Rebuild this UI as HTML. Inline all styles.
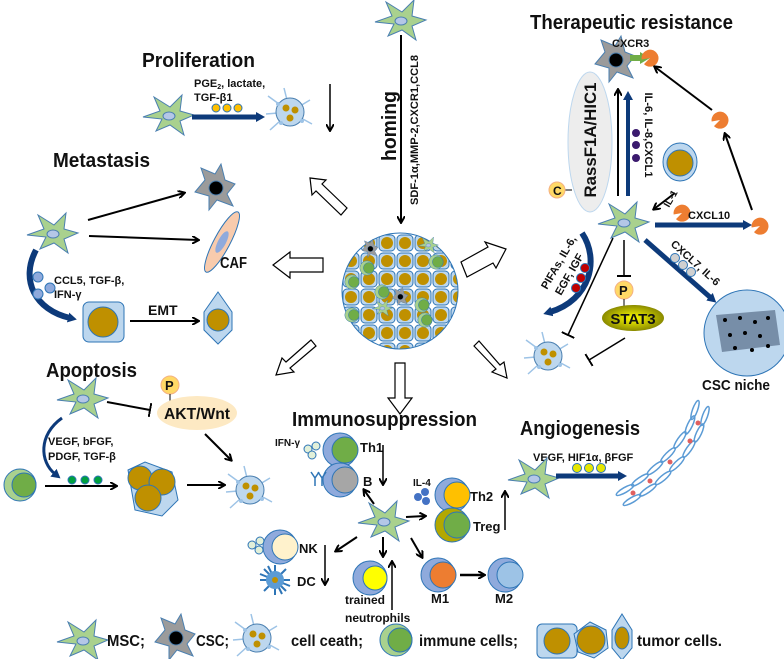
<!DOCTYPE html>
<html><head><meta charset="utf-8"><style>
html,body{margin:0;padding:0;background:#fff;}
svg{display:block;font-family:"Liberation Sans",sans-serif;}
.t{font-weight:bold;fill:#111;}
</style></head><body>
<svg width="784" height="659" viewBox="0 0 784 659" xmlns="http://www.w3.org/2000/svg">
<defs>
<marker id="ab" markerWidth="8" markerHeight="8" refX="6" refY="4" orient="auto" markerUnits="userSpaceOnUse"><path d="M0,0 L7,4 L0,8" fill="none" stroke="#000" stroke-width="2"/></marker>
<marker id="abl" markerWidth="10" markerHeight="10" refX="2" refY="5" orient="auto" markerUnits="userSpaceOnUse"><path d="M0,0 L9,5 L0,10 Z" fill="#0d3a7a"/></marker>
<marker id="tb" markerWidth="2" markerHeight="14" refX="1" refY="7" orient="auto" markerUnits="userSpaceOnUse"><rect x="0" y="0" width="2" height="14" fill="#000"/></marker>
<g id="msc"><path d="M-25,2 L-8,-4 L-14,-18 L2,-8 L14,-20 L12,-4 L26,0 L12,6 L16,20 L2,10 L-12,16 L-6,4 Z" fill="#a9d18e" stroke="#4a7fb0" stroke-width="1"/><ellipse cx="1" cy="1" rx="6" ry="4" fill="#b4c7e7" stroke="#4a7fb0"/></g>
<g id="csc"><path d="M-20,6 L-10,-6 L-14,-18 L0,-12 L6,-22 L10,-6 L20,-2 L12,8 L18,20 L2,14 L-6,24 L-6,10 Z" fill="#9b9b9b" stroke="#4a7fb0"/><circle cx="1" cy="2" r="7" fill="#000" stroke="#4a7fb0"/></g>
<g id="dead"><g stroke="#9dc3e6" stroke-width="1.5" fill="none"><path d="M0,0 L-22,-16 M0,0 L20,-12 M0,0 L22,12 M0,0 L-20,18 M0,0 L-6,-24 M0,0 L-24,2"/></g><circle r="14" fill="#bdd7ee" stroke="#4a7fb0"/><circle cx="-4" cy="-4" r="3.5" fill="#bf9000"/><circle cx="5" cy="-2" r="3.5" fill="#bf9000"/><circle cx="0" cy="6" r="3.5" fill="#bf9000"/><circle cx="-12" cy="-8" r="2" fill="#9dc3e6"/><circle cx="12" cy="9" r="2" fill="#9dc3e6"/><circle cx="-9" cy="11" r="2" fill="#9dc3e6"/></g>
<g id="imm"><circle r="16" fill="#a9d18e" stroke="#2e75b6"/><circle cx="4" r="12" fill="#70ad47" stroke="#2e75b6"/></g>
<g id="pac"><path d="M0,0 L7,-5 A8.5,8.5 0 1 0 8.5,0 Z" fill="#ed7d31"/></g>
<pattern id="tp" width="18" height="18" patternUnits="userSpaceOnUse"><rect x="1" y="1" width="16" height="16" rx="4" fill="#bdd7ee" stroke="#2e75b6"/><circle cx="9" cy="9" r="6" fill="#bf9000"/></pattern>
<radialGradient id="yg"><stop offset="0" stop-color="#ffff00"/><stop offset="1" stop-color="#8a8a00"/></radialGradient>
</defs>

<!-- homing -->
<use href="#msc" x="400" y="20"/>
<line x1="401" y1="35" x2="401" y2="222" stroke="#000" stroke-width="2" marker-end="url(#ab)"/>
<text class="t" font-size="20" transform="translate(396,126) rotate(-90)" text-anchor="middle" textLength="70" lengthAdjust="spacingAndGlyphs">homing</text>
<text class="t" font-size="11" font-weight="normal" transform="translate(418,130) rotate(-90)" text-anchor="middle" textLength="150" lengthAdjust="spacingAndGlyphs">SDF-1α,MMP-2,CXCR1,CCL8</text>

<!-- tumor mass -->
<circle cx="400" cy="291" r="58" fill="url(#tp)" stroke="#2e75b6"/>
<use href="#imm" transform="translate(367,268) scale(0.45)"/><use href="#imm" transform="translate(436,262) scale(0.45)"/>
<use href="#imm" transform="translate(352,282) scale(0.45)"/><use href="#imm" transform="translate(382,292) scale(0.45)"/>
<use href="#imm" transform="translate(422,305) scale(0.45)"/><use href="#imm" transform="translate(352,315) scale(0.45)"/>
<use href="#imm" transform="translate(425,320) scale(0.45)"/>
<use href="#csc" transform="translate(370,248) scale(0.4)"/><use href="#csc" transform="translate(400,296) scale(0.4)"/>
<use href="#msc" transform="translate(428,245) scale(0.4)"/><use href="#msc" transform="translate(382,308) scale(0.4)"/>

<!-- hollow arrows -->
<g fill="#fff" stroke="#000" stroke-width="1.2">
<path d="M323,258 L290,258 L290,252 L273,265 L290,278 L290,272 L323,272 Z"/>
<path d="M347,208 L322,184 L326,180 L310,178 L312,195 L316,191 L341,215 Z"/>
<path d="M461,262 L488,247 L485,242 L506,249 L496,268 L493,263 L467,277 Z"/>
<path d="M311,340 L286,362 L282,358 L276,375 L294,372 L290,368 L316,346 Z"/>
<path d="M474,346 L496,369 L492,372 L507,378 L504,362 L500,365 L479,341 Z"/>
<path d="M395,363 L405,363 L405,398 L412,398 L400,414 L388,398 L395,398 Z"/>
</g>

<!-- Proliferation -->
<text class="t" x="142" y="67" font-size="20" textLength="113" lengthAdjust="spacingAndGlyphs">Proliferation</text>
<text class="t" x="194" y="87" font-size="11">PGE<tspan font-size="7" dy="2">2</tspan><tspan dy="-2">, lactate,</tspan></text>
<text class="t" x="194" y="101" font-size="11">TGF-β1</text>
<circle cx="216" cy="108" r="4" fill="#ffc000" stroke="#2e75b6"/><circle cx="227" cy="108" r="4" fill="#ffc000" stroke="#2e75b6"/><circle cx="238" cy="108" r="4" fill="#ffc000" stroke="#2e75b6"/>
<use href="#msc" x="168" y="115"/>
<line x1="192" y1="117" x2="258" y2="117" stroke="#0d3a7a" stroke-width="5" marker-end="url(#abl)"/>
<use href="#dead" x="290" y="112"/>
<line x1="330" y1="84" x2="330" y2="130" stroke="#000" stroke-width="1.5" marker-end="url(#ab)"/>

<!-- Metastasis -->
<text class="t" x="53" y="167" font-size="20" textLength="97" lengthAdjust="spacingAndGlyphs">Metastasis</text>
<use href="#csc" x="215" y="186"/>
<use href="#msc" x="52" y="233"/>
<line x1="88" y1="220" x2="184" y2="193" stroke="#000" stroke-width="2" marker-end="url(#ab)"/>
<line x1="89" y1="236" x2="198" y2="240" stroke="#000" stroke-width="2" marker-end="url(#ab)"/>
<ellipse cx="222" cy="242" rx="34" ry="8" transform="rotate(-62 222 242)" fill="#f8cbad" stroke="#2e75b6"/>
<ellipse cx="222" cy="242" rx="12" ry="4" transform="rotate(-62 222 242)" fill="#8faadc"/>
<text class="t" x="220" y="268" font-size="16" textLength="27" lengthAdjust="spacingAndGlyphs">CAF</text>
<path d="M36,250 C20,280 35,310 70,318" fill="none" stroke="#0d3a7a" stroke-width="6" marker-end="url(#abl)"/>
<circle cx="38" cy="277" r="5" fill="#8faadc" stroke="#2e75b6"/><circle cx="50" cy="288" r="5" fill="#8faadc" stroke="#2e75b6"/><circle cx="38" cy="294" r="5" fill="#8faadc" stroke="#2e75b6"/>
<text class="t" x="54" y="284" font-size="11">CCL5, TGF-β,</text>
<text class="t" x="54" y="298" font-size="11">IFN-γ</text>
<rect x="83" y="302" width="41" height="40" rx="6" fill="#bdd7ee" stroke="#2e75b6"/>
<circle cx="103" cy="322" r="15" fill="#bf9000" stroke="#2e75b6"/>
<line x1="130" y1="321" x2="198" y2="321" stroke="#000" stroke-width="2" marker-end="url(#ab)"/>
<text class="t" x="148" y="315" font-size="14">EMT</text>
<path d="M218,292 L232,312 L232,330 L218,344 L204,330 L204,312 Z" fill="#bdd7ee" stroke="#2e75b6"/>
<circle cx="218" cy="320" r="11" fill="#bf9000" stroke="#2e75b6"/>

<!-- Therapeutic resistance -->
<text class="t" x="530" y="29" font-size="20" textLength="203" lengthAdjust="spacingAndGlyphs">Therapeutic resistance</text>
<use href="#csc" x="615" y="58"/>
<text class="t" x="612" y="47" font-size="11">CXCR3</text>
<line x1="630" y1="58" x2="642" y2="58" stroke="#70ad47" stroke-width="6"/><path d="M640,52 L650,58 L640,64Z" fill="#70ad47"/>
<use href="#pac" transform="translate(650,58) rotate(170)"/>
<use href="#pac" transform="translate(720,120) rotate(170)"/>
<use href="#pac" transform="translate(760,226) rotate(170)"/>
<use href="#pac" transform="translate(682,213) rotate(170)"/>
<line x1="712" y1="110" x2="655" y2="67" stroke="#000" stroke-width="2" marker-end="url(#ab)"/>
<line x1="752" y1="210" x2="725" y2="134" stroke="#000" stroke-width="2" marker-end="url(#ab)"/>
<ellipse cx="590" cy="142" rx="22" ry="70" fill="#ededed" stroke="#bdd7ee"/>
<text class="t" font-size="17" font-weight="normal" transform="translate(596,140) rotate(-90)" text-anchor="middle" fill="#222" textLength="115" lengthAdjust="spacingAndGlyphs">RassF1A/HIC1</text>
<line x1="562" y1="190" x2="572" y2="190" stroke="#000"/>
<circle cx="557" cy="190" r="8" fill="#ffd966" stroke="#f4b183"/><text class="t" x="553" y="195" font-size="12">C</text>
<line x1="618" y1="196" x2="618" y2="90" stroke="#000" stroke-width="2" marker-end="url(#ab)"/>
<line x1="628" y1="196" x2="628" y2="98" stroke="#0d3a7a" stroke-width="4" marker-end="url(#abl)"/>
<circle cx="636" cy="133" r="4" fill="#3b1a6e"/><circle cx="636" cy="145" r="4" fill="#3b1a6e"/><circle cx="636" cy="158" r="4" fill="#3b1a6e"/>
<text class="t" font-size="11" transform="translate(645,135) rotate(90)" text-anchor="middle" textLength="85" lengthAdjust="spacingAndGlyphs">IL-6, IL-8,CXCL1</text>
<ellipse cx="680" cy="162" rx="17" ry="19" fill="#bdd7ee" stroke="#2e75b6"/><circle cx="680" cy="163" r="13" fill="#bf9000" stroke="#2e75b6"/>
<line x1="675" y1="193" x2="654" y2="209" stroke="#000" stroke-width="2" marker-end="url(#ab)"/>
<text class="t" font-size="10" transform="translate(669,208) rotate(-60)">IL-1</text>
<use href="#msc" x="623" y="222"/>
<line x1="655" y1="225" x2="745" y2="225" stroke="#0d3a7a" stroke-width="5" marker-end="url(#abl)"/>
<text class="t" x="688" y="219" font-size="11">CXCL10</text>
<line x1="645" y1="240" x2="711" y2="298" stroke="#0d3a7a" stroke-width="5" marker-end="url(#abl)"/>
<circle cx="675" cy="258" r="4.5" fill="#d0d0d0" stroke="#2e75b6"/><circle cx="683" cy="265" r="4.5" fill="#d0d0d0" stroke="#2e75b6"/><circle cx="691" cy="272" r="4.5" fill="#d0d0d0" stroke="#2e75b6"/>
<text class="t" font-size="11" transform="translate(670,245) rotate(42)">CXCL7, IL-6</text>
<circle cx="747" cy="333" r="43" fill="#bdd7ee" stroke="#2e75b6"/>
<g fill="#5a6f8a"><path d="M716,315 L775,310 L780,345 L722,352 Z" opacity="0.7"/></g>
<g fill="#000"><circle cx="725" cy="320" r="2"/><circle cx="740" cy="318" r="2"/><circle cx="755" cy="322" r="2"/><circle cx="768" cy="318" r="2"/><circle cx="730" cy="335" r="2"/><circle cx="745" cy="333" r="2"/><circle cx="760" cy="336" r="2"/><circle cx="735" cy="348" r="2"/><circle cx="752" cy="350" r="2"/><circle cx="768" cy="346" r="2"/></g>
<text class="t" x="702" y="390" font-size="15" textLength="68" lengthAdjust="spacingAndGlyphs">CSC niche</text>
<path d="M582,233 C600,260 590,300 550,312" fill="none" stroke="#0d3a7a" stroke-width="6" marker-end="url(#abl)"/>
<circle cx="585" cy="268" r="4.5" fill="#c00000" stroke="#2e75b6"/><circle cx="581" cy="278" r="4.5" fill="#c00000" stroke="#2e75b6"/><circle cx="576" cy="288" r="4.5" fill="#c00000" stroke="#2e75b6"/>
<text class="t" font-size="11" transform="translate(547,290) rotate(-60)">PIFAs, IL-6,</text>
<text class="t" font-size="11" transform="translate(561,296) rotate(-60)">EGF, IGF</text>
<line x1="613" y1="238" x2="568" y2="335" stroke="#000" stroke-width="1.5" marker-end="url(#tb)"/>
<line x1="624" y1="240" x2="624" y2="276" stroke="#000" stroke-width="1.5" marker-end="url(#tb)"/>
<circle cx="624" cy="290" r="9" fill="#ffd966" stroke="#f4b183"/><text class="t" x="619" y="295" font-size="13">P</text>
<line x1="624" y1="299" x2="624" y2="306" stroke="#000"/>
<ellipse cx="633" cy="318" rx="31" ry="13" fill="url(#yg)"/>
<text class="t" x="633" y="324" font-size="15" text-anchor="middle">STAT3</text>
<line x1="625" y1="338" x2="589" y2="360" stroke="#000" stroke-width="1.5" marker-end="url(#tb)"/>
<use href="#dead" x="548" y="356"/>

<!-- Apoptosis -->
<text class="t" x="46" y="377" font-size="20" textLength="91" lengthAdjust="spacingAndGlyphs">Apoptosis</text>
<use href="#msc" x="82" y="398"/>
<line x1="107" y1="402" x2="150" y2="410" stroke="#000" stroke-width="2" marker-end="url(#tb)"/>
<circle cx="170" cy="385" r="9" fill="#ffd966" stroke="#f4b183"/><text class="t" x="165" y="390" font-size="13">P</text>
<line x1="170" y1="394" x2="170" y2="401" stroke="#000"/>
<ellipse cx="197" cy="413" rx="40" ry="17" fill="#fde9c3"/>
<text class="t" x="197" y="419" font-size="16" text-anchor="middle" font-weight="normal" textLength="66" lengthAdjust="spacingAndGlyphs">AKT/Wnt</text>
<line x1="205" y1="434" x2="231" y2="460" stroke="#000" stroke-width="2" marker-end="url(#ab)"/>
<path d="M62,418 C38,435 40,462 55,474" fill="none" stroke="#0d3a7a" stroke-width="3" marker-end="url(#abl)"/>
<text class="t" x="48" y="445" font-size="11">VEGF, bFGF,</text>
<text class="t" x="48" y="460" font-size="11">PDGF, TGF-β</text>
<use href="#imm" x="20" y="485"/>
<line x1="45" y1="486" x2="116" y2="486" stroke="#000" stroke-width="2" marker-end="url(#ab)"/>
<circle cx="72" cy="480" r="4" fill="#00a040" stroke="#2e75b6"/><circle cx="85" cy="480" r="4" fill="#00a040" stroke="#2e75b6"/><circle cx="98" cy="480" r="4" fill="#00a040" stroke="#2e75b6"/>
<g stroke="#2e75b6" fill="#bdd7ee"><path d="M128,470 L145,462 L172,472 L178,500 L162,516 L135,510 Z"/></g>
<circle cx="140" cy="478" r="12" fill="#bf9000" stroke="#2e75b6"/><circle cx="162" cy="482" r="13" fill="#bf9000" stroke="#2e75b6"/><circle cx="148" cy="498" r="13" fill="#bf9000" stroke="#2e75b6"/>
<line x1="187" y1="485" x2="224" y2="485" stroke="#000" stroke-width="2" marker-end="url(#ab)"/>
<use href="#dead" x="250" y="490"/>

<!-- Immunosuppression -->
<text class="t" x="292" y="426" font-size="20" textLength="185" lengthAdjust="spacingAndGlyphs">Immunosuppression</text>
<text class="t" x="275" y="446" font-size="10">IFN-γ</text>
<circle cx="308" cy="449" r="4" fill="#e2f0d9" stroke="#2e75b6"/><circle cx="316" cy="446" r="4" fill="#e2f0d9" stroke="#2e75b6"/><circle cx="312" cy="455" r="4" fill="#e2f0d9" stroke="#2e75b6"/>
<circle cx="340" cy="450" r="17" fill="#8faadc" stroke="#2e75b6"/><circle cx="345" cy="450" r="13" fill="#70ad47" stroke="#2e75b6"/>
<text class="t" x="360" y="452" font-size="13">Th1</text>
<circle cx="340" cy="480" r="17" fill="#8faadc" stroke="#2e75b6"/><circle cx="345" cy="480" r="13" fill="#a6a6a6" stroke="#2e75b6"/>
<text class="t" x="363" y="486" font-size="13">B</text>
<path d="M311,472 L315,478 L315,486 M319,472 L315,478 M318,472 L322,478 L322,486 M326,472 L322,478" stroke="#2e75b6" stroke-width="1.5" fill="none"/>
<line x1="383" y1="445" x2="383" y2="484" stroke="#000" stroke-width="1.5" marker-end="url(#ab)"/>
<use href="#msc" x="383" y="521"/>
<line x1="374" y1="504" x2="364" y2="490" stroke="#000" stroke-width="2" marker-end="url(#ab)"/>
<line x1="406" y1="517" x2="425" y2="516" stroke="#000" stroke-width="2" marker-end="url(#ab)"/>
<line x1="357" y1="537" x2="336" y2="551" stroke="#000" stroke-width="2" marker-end="url(#ab)"/>
<line x1="383" y1="537" x2="383" y2="556" stroke="#000" stroke-width="2" marker-end="url(#ab)"/>
<line x1="411" y1="538" x2="422" y2="557" stroke="#000" stroke-width="2" marker-end="url(#ab)"/>
<text class="t" x="413" y="486" font-size="10">IL-4</text>
<circle cx="418" cy="497" r="4" fill="#4472c4"/><circle cx="425" cy="492" r="4" fill="#4472c4"/><circle cx="426" cy="501" r="4" fill="#4472c4"/>
<circle cx="452" cy="495" r="17" fill="#8faadc" stroke="#2e75b6"/><circle cx="457" cy="495" r="13" fill="#ffc000" stroke="#2e75b6"/>
<text class="t" x="470" y="501" font-size="13">Th2</text>
<circle cx="452" cy="525" r="17" fill="#b3a800" stroke="#2e75b6"/><circle cx="457" cy="525" r="13" fill="#70ad47" stroke="#2e75b6"/>
<text class="t" x="473" y="531" font-size="13">Treg</text>
<line x1="505" y1="530" x2="505" y2="492" stroke="#000" stroke-width="1.5" marker-end="url(#ab)"/>
<circle cx="252" cy="545" r="4" fill="#e2f0d9" stroke="#2e75b6"/><circle cx="260" cy="541" r="4" fill="#e2f0d9" stroke="#2e75b6"/><circle cx="259" cy="550" r="4" fill="#e2f0d9" stroke="#2e75b6"/>
<circle cx="280" cy="547" r="17" fill="#8faadc" stroke="#2e75b6"/><circle cx="285" cy="547" r="13" fill="#fff2cc" stroke="#2e75b6"/>
<text class="t" x="299" y="553" font-size="13">NK</text>
<line x1="325" y1="545" x2="325" y2="584" stroke="#000" stroke-width="1.5" marker-end="url(#ab)"/>
<g stroke="#2e75b6" stroke-width="2"><path d="M275,565 L275,595 M260,580 L290,580 M264,569 L286,591 M286,569 L264,591 M268,566 L282,594 M260,574 L290,586"/></g>
<circle cx="275" cy="580" r="9" fill="#5b9bd5"/><circle cx="275" cy="580" r="3" fill="#bf9000"/>
<text class="t" x="297" y="586" font-size="13">DC</text>
<circle cx="370" cy="578" r="17" fill="#8faadc" stroke="#2e75b6"/><circle cx="375" cy="578" r="12" fill="#ffff00" stroke="#2e75b6"/>
<line x1="392" y1="610" x2="392" y2="562" stroke="#000" stroke-width="1.5" marker-end="url(#ab)"/>
<text class="t" x="345" y="604" font-size="12">trained</text>
<text class="t" x="345" y="622" font-size="12">neutrophils</text>
<circle cx="438" cy="575" r="17" fill="#8faadc" stroke="#2e75b6"/><circle cx="443" cy="575" r="13" fill="#ed7d31" stroke="#2e75b6"/>
<text class="t" x="431" y="603" font-size="13">M1</text>
<line x1="460" y1="575" x2="484" y2="575" stroke="#000" stroke-width="2.5" marker-end="url(#ab)"/>
<circle cx="505" cy="575" r="17" fill="#8faadc" stroke="#2e75b6"/><circle cx="510" cy="575" r="13" fill="#9dc3e6" stroke="#2e75b6"/>
<text class="t" x="495" y="603" font-size="13">M2</text>

<!-- Angiogenesis -->
<text class="t" x="520" y="435" font-size="20" textLength="120" lengthAdjust="spacingAndGlyphs">Angiogenesis</text>
<text class="t" x="533" y="461" font-size="11">VEGF, HIF1α, βFGF</text>
<use href="#msc" x="533" y="478"/>
<line x1="556" y1="476" x2="620" y2="476" stroke="#0d3a7a" stroke-width="5" marker-end="url(#abl)"/>
<circle cx="577" cy="468" r="4.5" fill="#e6e600" stroke="#2e75b6"/><circle cx="589" cy="468" r="4.5" fill="#e6e600" stroke="#2e75b6"/><circle cx="601" cy="468" r="4.5" fill="#e6e600" stroke="#2e75b6"/>
<g fill="none" stroke="#5b9bd5" stroke-width="1.5">
<ellipse cx="625" cy="490" rx="10" ry="2.5" transform="rotate(-30 625 490)"/><ellipse cx="640" cy="480" rx="10" ry="2.5" transform="rotate(-35 640 480)"/><ellipse cx="655" cy="468" rx="10" ry="2.5" transform="rotate(-40 655 468)"/><ellipse cx="668" cy="455" rx="10" ry="2.5" transform="rotate(-45 668 455)"/><ellipse cx="680" cy="440" rx="10" ry="2.5" transform="rotate(-55 680 440)"/><ellipse cx="690" cy="425" rx="10" ry="2.5" transform="rotate(-65 690 425)"/><ellipse cx="695" cy="410" rx="10" ry="2.5" transform="rotate(-70 695 410)"/>
<ellipse cx="632" cy="500" rx="10" ry="2.5" transform="rotate(-30 632 500)"/><ellipse cx="648" cy="490" rx="10" ry="2.5" transform="rotate(-35 648 490)"/><ellipse cx="663" cy="478" rx="10" ry="2.5" transform="rotate(-40 663 478)"/><ellipse cx="677" cy="464" rx="10" ry="2.5" transform="rotate(-45 677 464)"/><ellipse cx="689" cy="449" rx="10" ry="2.5" transform="rotate(-55 689 449)"/><ellipse cx="699" cy="433" rx="10" ry="2.5" transform="rotate(-65 699 433)"/><ellipse cx="705" cy="416" rx="10" ry="2.5" transform="rotate(-70 705 416)"/>
</g>
<g fill="#e06060"><circle cx="633" cy="493" r="2.5"/><circle cx="650" cy="481" r="2.5"/><circle cx="670" cy="462" r="2.5"/><circle cx="690" cy="441" r="2.5"/><circle cx="698" cy="423" r="2.5"/></g>

<!-- Legend -->
<use href="#msc" x="82" y="640"/>
<text class="t" x="107" y="646" font-size="16" textLength="38" lengthAdjust="spacingAndGlyphs">MSC;</text>
<use href="#csc" x="175" y="636"/>
<text class="t" x="196" y="646" font-size="16" textLength="33" lengthAdjust="spacingAndGlyphs">CSC;</text>
<use href="#dead" x="257" y="638"/>
<text class="t" x="291" y="646" font-size="16" textLength="72" lengthAdjust="spacingAndGlyphs">cell ceath;</text>
<use href="#imm" x="396" y="640"/>
<text class="t" x="419" y="646" font-size="16" textLength="99" lengthAdjust="spacingAndGlyphs">immune cells;</text>
<rect x="537" y="624" width="40" height="34" rx="5" fill="#bdd7ee" stroke="#2e75b6"/>
<circle cx="557" cy="641" r="13" fill="#bf9000" stroke="#2e75b6"/>
<path d="M590,622 L606,630 L608,648 L594,658 L578,652 L574,634 Z" fill="#bdd7ee" stroke="#2e75b6"/>
<circle cx="591" cy="640" r="14" fill="#bf9000" stroke="#2e75b6"/>
<path d="M622,614 L632,630 L632,648 L622,660 L612,648 L612,630 Z" fill="#bdd7ee" stroke="#2e75b6"/>
<ellipse cx="622" cy="638" rx="7" ry="11" fill="#bf9000" stroke="#2e75b6"/>
<text class="t" x="637" y="646" font-size="16" textLength="85" lengthAdjust="spacingAndGlyphs">tumor cells.</text>
</svg>
</body></html>
